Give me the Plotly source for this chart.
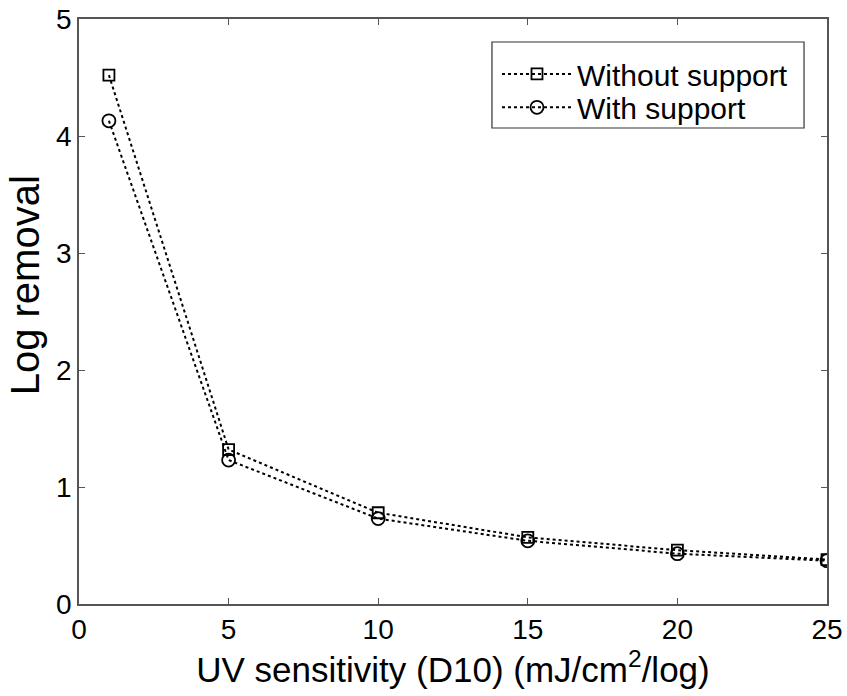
import plotly.graph_objects as go

x_vals = [1, 5, 10, 15, 20, 25]
without_support = [4.52, 1.32, 0.78, 0.57, 0.46, 0.38]
with_support = [4.13, 1.23, 0.73, 0.54, 0.43, 0.37]
x_ticks = [0, 5, 10, 15, 20, 25]
y_ticks = [0, 1, 2, 3, 4, 5]

FONT = "Liberation Sans, Arial, sans-serif"

fig = go.Figure()
fig.add_trace(go.Scatter(
    x=x_vals, y=without_support, name="Without support", mode="lines+markers",
    line=dict(color="black", width=2, dash="dot"),
    marker=dict(symbol="square-open", size=11, color="black", line=dict(width=1.8, color="black")),
    legend="legend",
))
fig.add_trace(go.Scatter(
    x=x_vals, y=with_support, name="With support", mode="lines+markers",
    line=dict(color="black", width=2, dash="dot"),
    marker=dict(symbol="circle-open", size=13, color="black", line=dict(width=1.8, color="black")),
    legend="legend2",
))

axis_common = dict(
    showgrid=False, zeroline=False, showline=True, linecolor="#555555", linewidth=1.5,
    mirror="ticks", ticks="inside", ticklen=6, tickcolor="#555555", tickwidth=1,
    tickfont=dict(family=FONT, size=28, color="black"),
    automargin=False,
)

leg_common = dict(xanchor="left", yanchor="top", borderwidth=0,
                  bgcolor="rgba(0,0,0,0)", font=dict(size=30, family=FONT, color="black"),
                  itemwidth=70)

fig.update_layout(
    width=847, height=696,
    margin=dict(l=79, r=20, t=19, b=92),
    paper_bgcolor="white", plot_bgcolor="white",
    font=dict(family=FONT, color="black"),
    xaxis=dict(range=[0, 25], tickvals=x_ticks, ticktext=[str(v) for v in x_ticks],
               title=dict(text="UV sensitivity (D10) (mJ/cm<sup>2</sup>/log)",
                          font=dict(size=35), standoff=11),
               **axis_common),
    yaxis=dict(range=[0, 5], tickvals=y_ticks, ticktext=[str(v) for v in y_ticks],
               **axis_common),
    legend=dict(x=0.5588, y=0.9505, **leg_common),
    legend2=dict(x=0.5588, y=0.8935, **leg_common),
    shapes=[dict(type="rect", xref="paper", yref="paper",
                 x0=0.5521, x1=0.9693, y0=0.8137, y1=0.9607,
                 line=dict(color="#333333", width=1.2), fillcolor="white", layer="below")],
    annotations=[dict(text="Log removal", xref="paper", yref="paper",
                      x=-0.072, y=0.545, xanchor="center", yanchor="middle",
                      textangle=-90, showarrow=False,
                      font=dict(size=40, family=FONT, color="black"))],
    showlegend=True,
)

fig.write_html("out.html")
